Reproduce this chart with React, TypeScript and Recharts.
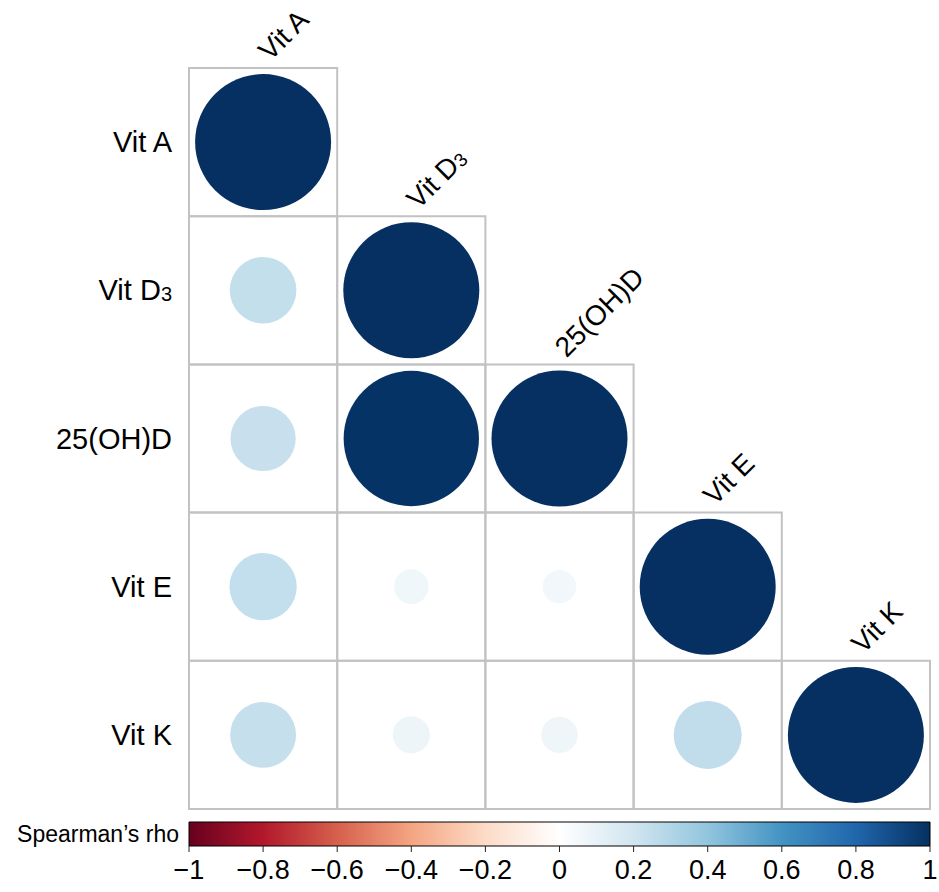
/**
 * Spearman correlation matrix (lower triangle) drawn as sized circles,
 * with an RdBu colour bar below.
 */

import {
  ScatterChart,
  Scatter,
  ComposedChart,
  XAxis,
  YAxis,
  ZAxis,
  Cell,
  ReferenceArea,
  Label,
} from 'recharts'

const varNames = ['Vit A', 'Vit D', '25(OH)D', 'Vit E', 'Vit K']
const varSubs = ['', '3', '', '', '']

// lower triangle, row i holds rho against columns 0..i
const rhoRows = [
  [1],
  [0.24, 1],
  [0.23, 0.99, 1],
  [0.245, 0.065, 0.06, 1],
  [0.235, 0.075, 0.072, 0.25, 1],
]

const colorTicks = [-1, -0.8, -0.6, -0.4, -0.2, 0, 0.2, 0.4, 0.6, 0.8, 1]

// corrplot COL2('RdBu'), from -1 to 1
const rdbu = [
  '#67001F', '#B2182B', '#D6604D', '#F4A582', '#FDDBC7', '#FFFFFF',
  '#D1E5F0', '#92C5DE', '#4393C3', '#2166AC', '#053061',
]

const FONT = '"Liberation Sans", Arial, sans-serif'
const MAX_AREA = Math.PI * 68 * 68

function hexToRgb(h: string) {
  return [1, 3, 5].map(k => parseInt(h.slice(k, k + 2), 16))
}

function rhoColor(r: number) {
  const t = ((r + 1) / 2) * (rdbu.length - 1)
  const i = Math.min(Math.floor(t), rdbu.length - 2)
  const f = t - i
  const a = hexToRgb(rdbu[i])
  const b = hexToRgb(rdbu[i + 1])
  const c = a.map((v, k) => Math.round(v + (b[k] - v) * f))
  return `rgb(${c[0]},${c[1]},${c[2]})`
}

const points = rhoRows.flatMap((row, i) =>
  row.map((rho, j) => ({ x: j + 0.5, y: i + 0.5, z: Math.abs(rho), rho }))
)

const cells = rhoRows.flatMap((row, i) => row.map((_, j) => ({ i, j })))

const diagLabels = varNames.map((_, j) => ({ x: j + 0.5, y: j, idx: j }))

const barData = colorTicks.map(v => ({ v, y: 0.5 }))

const fmtTick = (v: number) => (v < 0 ? `\u2212${Math.abs(v)}` : String(v))

function RowTick(props: any) {
  const { x, y, payload } = props
  const idx = Math.floor(payload.value)
  return (
    <text x={x} y={y + 10} textAnchor="end" fontSize={29} fontFamily={FONT} fill="#000">
      {varNames[idx]}
      {varSubs[idx] && (
        <tspan fontSize={20} dy={1}>
          {varSubs[idx]}
        </tspan>
      )}
    </text>
  )
}

function TopLabel(props: any) {
  const { cx, cy, payload } = props
  const idx = payload.idx
  const x = cx + 7
  const y = cy - 6
  return (
    <text
      x={x}
      y={y}
      transform={`rotate(-45 ${x} ${y})`}
      fontSize={28}
      fontFamily={FONT}
      fill="#000"
    >
      {varNames[idx]}
      {varSubs[idx] && (
        <tspan fontSize={19} dy={1}>
          {varSubs[idx]}
        </tspan>
      )}
    </text>
  )
}

export default function App() {
  return (
    <div style={{ position: 'absolute', left: 0, top: 0, width: 939, height: 892, background: '#fff' }}>
      <ScatterChart
        width={939}
        height={812}
        margin={{ top: 68, right: 9, left: 0, bottom: 3 }}
        style={{ overflow: 'visible' }}
      >
        <XAxis type="number" dataKey="x" domain={[0, 5]} hide />
        <YAxis
          type="number"
          dataKey="y"
          domain={[0, 5]}
          reversed
          width={189}
          ticks={[0.5, 1.5, 2.5, 3.5, 4.5]}
          tick={<RowTick />}
          tickSize={0}
          tickMargin={17}
          axisLine={false}
          tickLine={false}
        />
        <ZAxis type="number" dataKey="z" domain={[0, 1]} range={[0, MAX_AREA]} />
        {cells.map(c => (
          <ReferenceArea
            key={`${c.i}-${c.j}`}
            x1={c.j}
            x2={c.j + 1}
            y1={c.i}
            y2={c.i + 1}
            fill="none"
            stroke="#C2C2C2"
            strokeWidth={2}
            ifOverflow="visible"
          />
        ))}
        <Scatter data={points} isAnimationActive={false}>
          {points.map((p, k) => (
            <Cell key={k} fill={rhoColor(p.rho)} stroke="none" />
          ))}
        </Scatter>
        <Scatter data={diagLabels} shape={<TopLabel />} isAnimationActive={false} />
      </ScatterChart>

      <div style={{ position: 'absolute', left: 0, top: 812 }}>
        <ComposedChart
          width={939}
          height={80}
          data={barData}
          margin={{ top: 10, right: 9, left: 189, bottom: 0 }}
        >
          <defs>
            <linearGradient id="rdbuGrad" x1="0" y1="0" x2="1" y2="0">
              {rdbu.map((c, k) => (
                <stop key={k} offset={`${(k / (rdbu.length - 1)) * 100}%`} stopColor={c} />
              ))}
            </linearGradient>
          </defs>
          <XAxis
            type="number"
            dataKey="v"
            domain={[-1, 1]}
            ticks={colorTicks}
            tickFormatter={fmtTick}
            axisLine={false}
            tickSize={6}
            tickMargin={8}
            tickLine={{ stroke: '#222' }}
            tick={{ fontSize: 27, fill: '#000', fontFamily: FONT }}
            height={46}
            interval={0}
          />
          <YAxis type="number" dataKey="y" domain={[0, 1]} hide />
          <ReferenceArea
            x1={-1}
            x2={1}
            y1={0}
            y2={1}
            fill="url(#rdbuGrad)"
            fillOpacity={1}
            stroke="#000"
            strokeWidth={1}
            ifOverflow="visible"
          >
            <Label
              value="Spearman’s rho"
              position="left"
              offset={10}
              fontSize={23}
              fill="#000"
              fontFamily={FONT}
            />
          </ReferenceArea>
          <Scatter dataKey="y" fill="none" legendType="none" isAnimationActive={false} />
        </ComposedChart>
      </div>
    </div>
  )
}
